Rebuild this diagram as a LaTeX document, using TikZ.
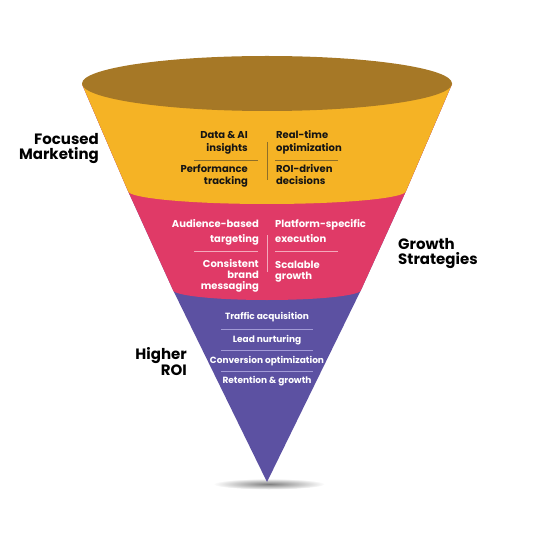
\documentclass[tikz,border=0pt]{standalone}
\usepackage{fontspec}
\setmainfont{Poppins}
\definecolor{fyellow}{HTML}{F5B325}
\definecolor{ftop}{HTML}{A67826}
\definecolor{fpink}{HTML}{E03A67}
\definecolor{fpurple}{HTML}{5C51A2}
\definecolor{txtdark}{HTML}{141414}
\definecolor{ysep}{HTML}{8E6E28}
\definecolor{psep}{HTML}{F4A9BC}
\definecolor{usep}{HTML}{A29AD6}
\begin{document}
\begin{tikzpicture}[x=1pt,y=-1pt,
  head/.style={font=\fontsize{15}{14.5}\selectfont\bfseries, text=black, inner sep=0pt},
  ytxt/.style={font=\fontsize{10}{10}\selectfont\bfseries, text=txtdark, inner sep=0pt},
  ptxt/.style={font=\fontsize{10}{10}\selectfont\bfseries, text=white, inner sep=0pt},
  utxt/.style={font=\fontsize{9}{9}\selectfont\bfseries, text=white, inner sep=0pt},
  ysepline/.style={draw=ysep, line width=0.8pt},
  psepline/.style={draw=psep, line width=0.8pt},
  usepline/.style={draw=usep, line width=0.8pt}]
\useasboundingbox (0,0) rectangle (534,534);
% shadow
\shade[inner color=black!50, outer color=white] (269,484) ellipse [x radius=56pt, y radius=5.5pt];
% corner points
\coordinate (L0) at (82,84);
\coordinate (L1) at (128,191);
\coordinate (L2) at (173,290);
\coordinate (T) at (267,482);
\coordinate (R2) at (361,290);
\coordinate (R1) at (406,191);
\coordinate (R0) at (452,84);
% purple full body
\fill[fpurple] (L0) -- (L1) -- (L2) -- (T) -- (R2) -- (R1) -- (R0) -- cycle;
% pink
\fill[fpink] (L0) -- (L1) -- (L2) arc[start angle=180, end angle=360, x radius=94pt, y radius=10pt] -- (R1) -- (R0) -- cycle;
% yellow
\fill[fyellow] (L0) -- (L1) arc[start angle=180, end angle=360, x radius=139pt, y radius=13pt] -- (R0) -- cycle;
% top
\fill[ftop] (267,83.5) ellipse [x radius=185pt, y radius=27.5pt];

% yellow section
\node[ytxt, anchor=base east] (y1) at (248,139) {Data \& AI};
\node[ytxt, anchor=base east] (y2) at (248,152) {insights};
\node[ytxt, anchor=base east] (y3) at (248,173) {Performance};
\node[ytxt, anchor=base east] (y4) at (248,185) {tracking};
\node[ytxt, anchor=base west] (y5) at (276,139) {Real-time};
\node[ytxt, anchor=base west] (y6) at (276,152) {optimization};
\node[ytxt, anchor=base west] (y7) at (276,173) {ROI-driven};
\node[ytxt, anchor=base west] (y8) at (276,185) {decisions};
\coordinate (ya) at (194,160); \coordinate (yb) at (258,160);
\coordinate (yc) at (275,160); \coordinate (yd) at (338,160);
\coordinate (ye) at (267,142); \coordinate (yf) at (267,180);
\draw[ysepline] (ya) -- (yb);
\draw[ysepline] (yc) -- (yd);
\draw[ysepline] (ye) -- (yf);

% pink section
\node[ptxt, anchor=base east] (p1) at (259,228) {Audience-based};
\node[ptxt, anchor=base east] (p2) at (259,242) {targeting};
\node[ptxt, anchor=base east] (p3) at (259,267) {Consistent};
\node[ptxt, anchor=base east] (p4) at (259,278) {brand};
\node[ptxt, anchor=base east] (p5) at (259,289) {messaging};
\node[ptxt, anchor=base west] (p6) at (275,228) {Platform-specific};
\node[ptxt, anchor=base west] (p7) at (275,242) {execution};
\node[ptxt, anchor=base west] (p8) at (275,268) {Scalable};
\node[ptxt, anchor=base west] (p9) at (275,279) {growth};
\coordinate (pa) at (194,251); \coordinate (pb) at (258,251);
\coordinate (pc) at (275,251); \coordinate (pd) at (338,251);
\coordinate (pe) at (267,235); \coordinate (pf) at (267,272);
\draw[psepline] (pa) -- (pb);
\draw[psepline] (pc) -- (pd);
\draw[psepline] (pe) -- (pf);

% purple section
\node[utxt, anchor=base] (u1) at (267,319) {Traffic acquisition};
\node[utxt, anchor=base] (u2) at (267,342) {Lead nurturing};
\node[utxt, anchor=base] (u3) at (267,363) {Conversion optimization};
\node[utxt, anchor=base] (u4) at (267,383) {Retention \& growth};
\coordinate (ua) at (221,329); \coordinate (ub) at (313,329);
\coordinate (uc) at (221,350); \coordinate (ud) at (313,350);
\coordinate (ue) at (221,371); \coordinate (uf) at (313,371);
\draw[usepline] (ua) -- (ub);
\draw[usepline] (uc) -- (ud);
\draw[usepline] (ue) -- (uf);

% side headings
\node[head, align=right, anchor=base east] (h1) at (99,159.5) {Focused\\Marketing};
\node[head, align=left, anchor=base west] (h3) at (398,264) {Growth\\Strategies};
\node[head, align=right, anchor=base east] (h5) at (187,375.5) {Higher\\ROI};
\end{tikzpicture}
\end{document}
